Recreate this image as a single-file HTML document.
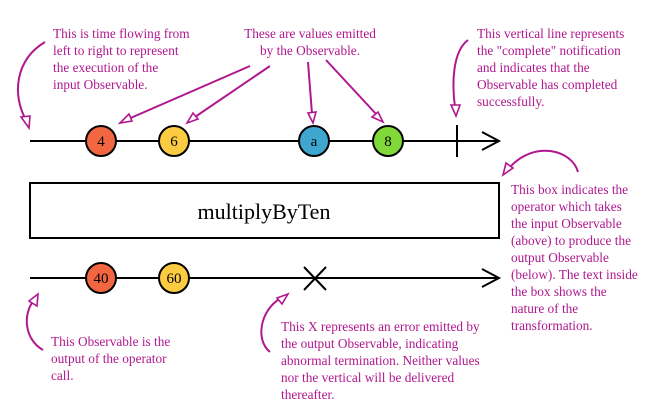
<!DOCTYPE html>
<html><head><meta charset="utf-8"><style>
html,body{margin:0;padding:0;background:#fff;}
svg{display:block;}
text{font-family:"Liberation Serif",serif;}
.t{fill:#b0178e;font-size:13.3px;}
.a{fill:none;stroke:#b0178e;stroke-width:2;}
.h{fill:#fff;stroke:#b0178e;stroke-width:1.6;}
</style></head><body>
<svg width="665" height="420" viewBox="0 0 665 420" xmlns="http://www.w3.org/2000/svg">
<!-- top line -->
<line x1="30" y1="141" x2="498" y2="141" stroke="#000" stroke-width="2"/>
<polyline points="482,132 499,141 482,150" fill="none" stroke="#000" stroke-width="2"/>
<line x1="457" y1="125" x2="457" y2="157" stroke="#000" stroke-width="2"/>
<g stroke="#000" stroke-width="2">
<circle cx="101" cy="141" r="15" fill="#f26642"/>
<circle cx="174" cy="141" r="15" fill="#fdcb42"/>
<circle cx="314" cy="141" r="15" fill="#3ea6cf"/>
<circle cx="388" cy="141" r="15" fill="#80d839"/>
</g>
<g font-size="15" text-anchor="middle" fill="#000">
<text x="101" y="146">4</text><text x="174" y="146">6</text>
<text x="314" y="146">a</text><text x="388" y="146">8</text>
</g>
<!-- box -->
<rect x="30" y="183" width="469" height="55" fill="#fff" stroke="#000" stroke-width="2"/>
<text x="264" y="219" font-size="22" text-anchor="middle" fill="#000">multiplyByTen</text>
<!-- bottom line -->
<line x1="30" y1="278" x2="498" y2="278" stroke="#000" stroke-width="2"/>
<polyline points="482,269 499,278 482,287" fill="none" stroke="#000" stroke-width="2"/>
<g stroke="#000" stroke-width="2">
<circle cx="101" cy="278" r="15" fill="#f26642"/>
<circle cx="174" cy="278" r="15" fill="#fdcb42"/>
</g>
<g font-size="15" text-anchor="middle" fill="#000">
<text x="101" y="283">40</text><text x="174" y="283">60</text>
</g>
<line x1="304" y1="267" x2="326" y2="290" stroke="#000" stroke-width="2"/>
<line x1="326" y1="267" x2="304" y2="290" stroke="#000" stroke-width="2"/>
<!-- annotations -->
<g class="t">
<text x="53" y="38">This is time flowing from</text>
<text x="53" y="55">left to right to represent</text>
<text x="53" y="72">the execution of the</text>
<text x="53" y="89">input Observable.</text>
<text x="310" y="38" text-anchor="middle">These are values emitted</text>
<text x="310" y="55" text-anchor="middle">by the Observable.</text>
<text x="477" y="38">This vertical line represents</text>
<text x="477" y="55">the "complete" notification</text>
<text x="477" y="72">and indicates that the</text>
<text x="477" y="89">Observable has completed</text>
<text x="477" y="106">successfully.</text>
<text x="511" y="194">This box indicates the</text>
<text x="511" y="211">operator which takes</text>
<text x="511" y="228">the input Observable</text>
<text x="511" y="245">(above) to produce the</text>
<text x="511" y="262">output Observable</text>
<text x="511" y="279">(below). The text inside</text>
<text x="511" y="296">the box shows the</text>
<text x="511" y="313">nature of the</text>
<text x="511" y="330">transformation.</text>
<text x="51" y="346">This Observable is the</text>
<text x="51" y="363">output of the operator</text>
<text x="51" y="380">call.</text>
<text x="281" y="331">This X represents an error emitted by</text>
<text x="281" y="348">the output Observable, indicating</text>
<text x="281" y="365">abnormal termination. Neither values</text>
<text x="281" y="382">nor the vertical will be delivered</text>
<text x="281" y="399">thereafter.</text>
</g>
<!-- arrows -->
<path class="a" d="M45,42 C15,60 12,95 26,120"/>
<polygon class="h" points="29,128 21,117 30,116"/>
<path class="a" d="M250,66 L126,120"/>
<polygon class="h" points="120,123 129,114 132,121"/>
<path class="a" d="M270,66 L192,119"/>
<polygon class="h" points="187,123 193,113 198,119"/>
<path class="a" d="M308,62 L312,114"/>
<polygon class="h" points="313,123 308,113 316,112"/>
<path class="a" d="M326,60 L377,115"/>
<polygon class="h" points="383,122 372,117 378,112"/>
<path class="a" d="M468,40 C452,52 452,85 455,107"/>
<polygon class="h" points="456,116 451,105 460,105"/>
<path class="a" d="M578,172 C572,150 535,140 510,167"/>
<polygon class="h" points="503,175 506,163 513,168"/>
<path class="a" d="M43,350 C25,340 22,315 34,300"/>
<polygon class="h" points="38,294 37,306 29,301"/>
<path class="a" d="M270,352 C255,340 260,310 281,298"/>
<polygon class="h" points="288,294 282,304 277,298"/>
</svg>
</body></html>
